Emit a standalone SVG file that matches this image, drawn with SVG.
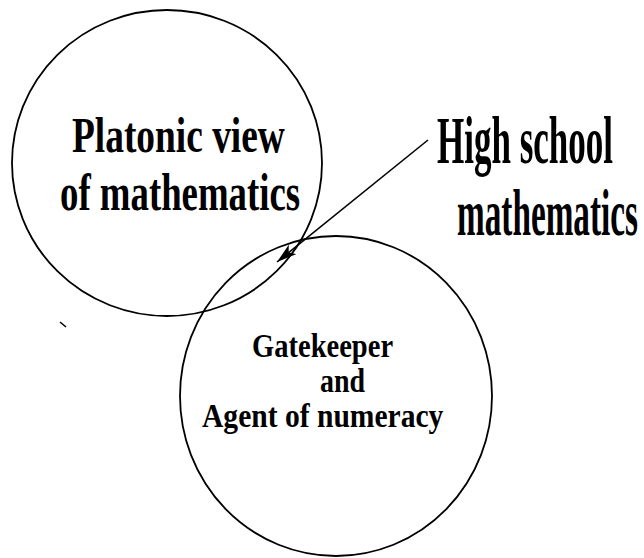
<svg xmlns="http://www.w3.org/2000/svg" width="644" height="558" viewBox="0 0 644 558">
<style>
.c{fill:none;stroke:#000;stroke-width:1.8}
.t{font-family:"Liberation Serif","Times New Roman",serif;font-weight:bold;fill:#000}
</style>
<defs>
<marker id="ah" viewBox="0 0 20 12" refX="20" refY="6" markerWidth="20" markerHeight="12" orient="auto" markerUnits="userSpaceOnUse">
<path d="M0,0 L20,6 L0,12 L5,6 Z" fill="#000"/>
</marker>
</defs>
<rect width="644" height="558" fill="#fff"/>
<g id="platonic">
<ellipse class="c" cx="167" cy="163" rx="155" ry="153"/>
<text class="t" transform="translate(72,152) scale(0.7,1)" font-size="51" textLength="304" lengthAdjust="spacingAndGlyphs">Platonic view</text>
<text class="t" transform="translate(60,210) scale(0.7,1)" font-size="53" textLength="343" lengthAdjust="spacingAndGlyphs">of mathematics</text>
</g>
<g id="gatekeeper">
<ellipse class="c" cx="336" cy="396" rx="156" ry="160"/>
<text class="t" transform="translate(252,357) scale(0.85,1)" font-size="33" textLength="166" lengthAdjust="spacingAndGlyphs">Gatekeeper</text>
<text class="t" transform="translate(320,392) scale(0.85,1)" font-size="33" textLength="53" lengthAdjust="spacingAndGlyphs">and</text>
<text class="t" transform="translate(202,427) scale(0.85,1)" font-size="33" textLength="284" lengthAdjust="spacingAndGlyphs">Agent of numeracy</text>
</g>
<g id="highschool">
<text class="t" transform="translate(437,163) scale(0.5,1)" font-size="67" textLength="352" lengthAdjust="spacingAndGlyphs">High school</text>
<text class="t" transform="translate(457,235) scale(0.5,1)" font-size="66" textLength="362" lengthAdjust="spacingAndGlyphs">mathematics</text>
</g>
<g id="connectors">
<line x1="428" y1="140" x2="277" y2="262" stroke="#000" stroke-width="1.6" marker-end="url(#ah)"/>
<line x1="60" y1="322" x2="66" y2="327" stroke="#000" stroke-width="1.6"/>
</g>
</svg>
